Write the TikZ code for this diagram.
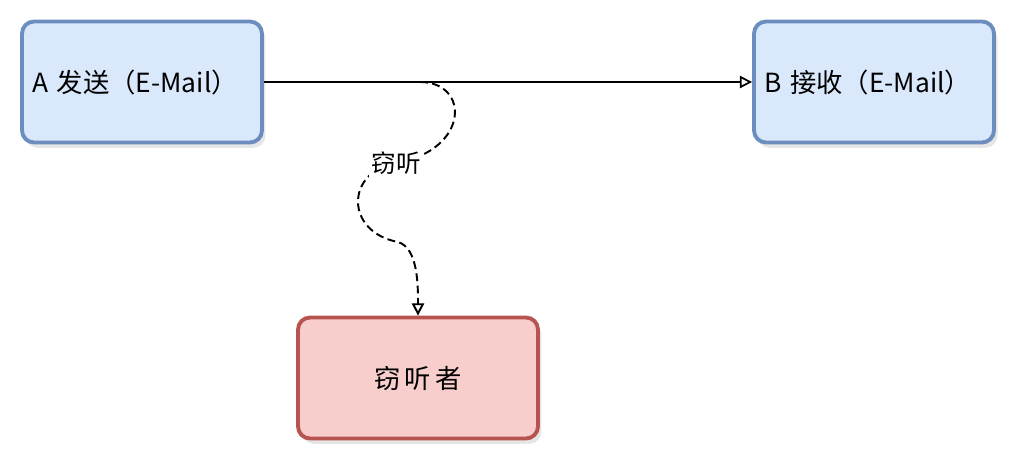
\documentclass[tikz,border=0pt]{standalone}
\usepackage{fontspec}
\setmainfont{Noto Sans CJK SC}
\usetikzlibrary{arrows.meta,shadows}
\definecolor{sendfill}{HTML}{DAE8FC}
\definecolor{sendline}{HTML}{6C8EBF}
\definecolor{spyfill}{HTML}{F8CECC}
\definecolor{spyline}{HTML}{B85450}
\tikzset{
    mailbox/.style={rounded corners=0.24cm, line width=2.2pt, minimum width=4.8cm,
        minimum height=2.42cm, text width=4.4cm, font=\fontsize{15}{18}\selectfont,
        drop shadow={opacity=0.2,shadow xshift=2pt,shadow yshift=-3pt}},
    tip/.style={-{Triangle[open,length=7pt,width=7pt]}}
}
\begin{document}
\begin{tikzpicture}[x=0.02cm,y=-0.02cm]
    \useasboundingbox (0,0) rectangle (1024,470);
    \node[mailbox, fill=sendfill, draw=sendline, align=left] (a) at (142,82) {A 发送（E-Mail）};
    \node[mailbox, fill=sendfill, draw=sendline, align=left] (b) at (874,82) {B 接收（E-Mail）};
    \node[mailbox, fill=spyfill, draw=spyline, align=center] (spy) at (418,378) {窃\,听\,者};
    \draw[line width=1pt, tip] (a.east) -- (b.west);
    \coordinate (tap) at (420,82);
    \draw[line width=1.1pt, dash pattern=on 4.5pt off 2.5pt, tip] (tap)
        .. controls (470,82) and (470,150) .. (396,163)
        node[fill=white, inner sep=1.5pt, font=\fontsize{14}{16}\selectfont] (lbl) {窃听}
        .. controls (345,172) and (345,232) .. (398,242)
        .. controls (418,248) and (418,285) .. (spy.north);
\end{tikzpicture}
\end{document}
